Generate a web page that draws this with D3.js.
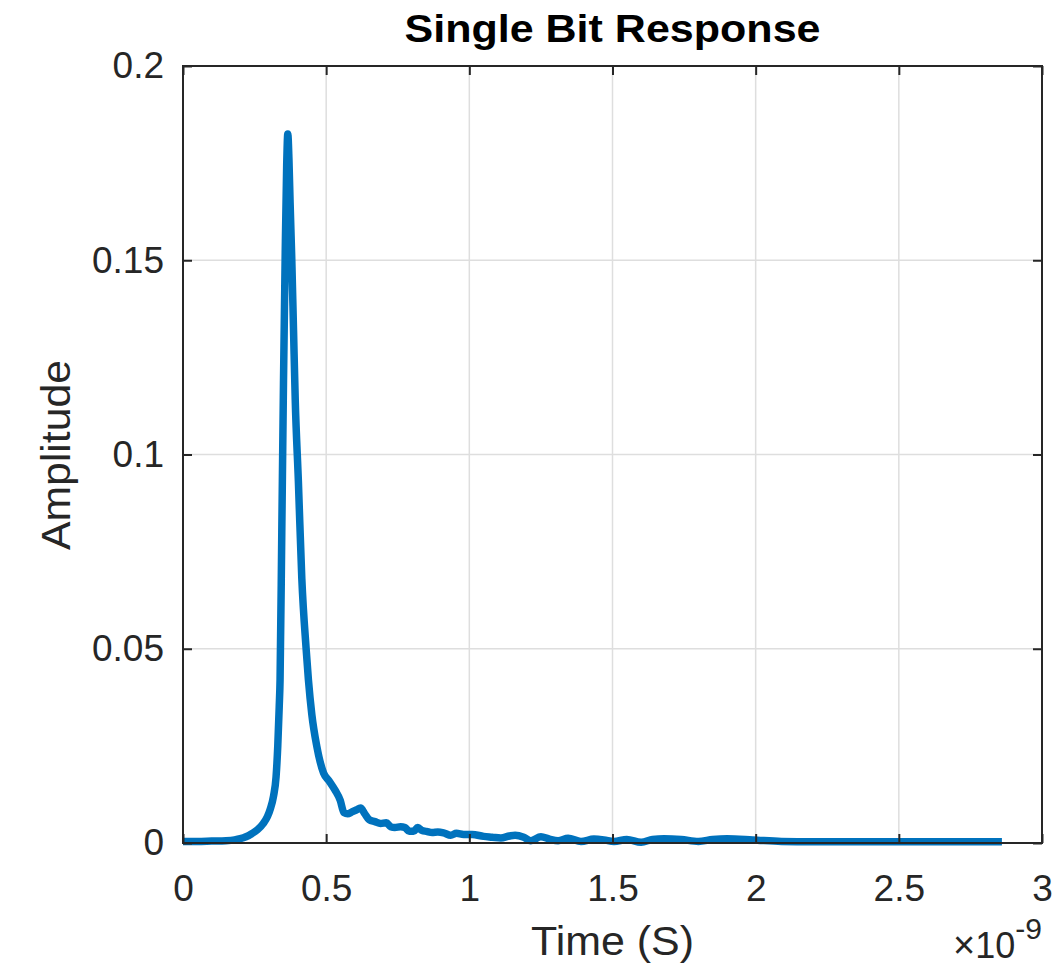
<!DOCTYPE html>
<html>
<head>
<meta charset="utf-8">
<script src="https://cdn.jsdelivr.net/npm/d3@7"></script>
<style>
  html, body { margin: 0; padding: 0; background: #fff; }
  svg { display: block; }
  text { font-family: "Liberation Sans", Arial, Helvetica, sans-serif; fill: #262626; }
</style>
</head>
<body>
<svg id="chart" width="1053" height="965"></svg>
<script>
// Time in units of 1e-9 s
const timeNs = [
  0.00, 0.05, 0.10, 0.15, 0.18, 0.20, 0.22, 0.24, 0.26, 0.28, 0.295, 0.305, 0.316, 0.325, 0.331, 0.336, 0.339,
  0.345, 0.351, 0.357, 0.362, 0.366, 0.370, 0.374, 0.380, 0.386, 0.392, 0.403, 0.415, 0.430,
  0.438, 0.450, 0.467, 0.491, 0.510, 0.531, 0.549, 0.562, 0.575, 0.590, 0.605, 0.620, 0.635,
  0.650, 0.670, 0.690, 0.710, 0.725, 0.740, 0.760, 0.775, 0.790, 0.805, 0.820, 0.835, 0.850,
  0.870, 0.890, 0.910, 0.935, 0.955, 0.980, 1.010, 1.050, 1.080, 1.110, 1.140, 1.160, 1.190,
  1.215, 1.250, 1.280, 1.310, 1.345, 1.390, 1.435, 1.470, 1.505, 1.550, 1.600, 1.640, 1.680,
  1.740, 1.800, 1.850, 1.900, 1.990, 2.090, 2.200, 2.500, 2.860
];
const amplitude = [
  0.0004, 0.0004, 0.0005, 0.0006, 0.0008, 0.0011, 0.0016, 0.0024, 0.0034, 0.0050, 0.0068, 0.0088, 0.0120, 0.0170, 0.0250, 0.0350, 0.0420,
  0.0800, 0.1190, 0.1520, 0.1740, 0.1825, 0.1760, 0.1650, 0.1500, 0.1320, 0.1140, 0.0930, 0.0680, 0.0500,
  0.0420, 0.0330, 0.0250, 0.0180, 0.0160, 0.0136, 0.0110, 0.0078, 0.0075, 0.0080, 0.0085, 0.0090, 0.0075,
  0.0060, 0.0055, 0.0050, 0.0052, 0.0042, 0.0040, 0.0042, 0.0040, 0.0030, 0.0030, 0.0040, 0.0032, 0.0030,
  0.0027, 0.0028, 0.0026, 0.0020, 0.0025, 0.0022, 0.0022, 0.0017, 0.0015, 0.0013, 0.0018, 0.0020, 0.0015,
  0.0006, 0.0016, 0.0010, 0.0006, 0.0012, 0.0004, 0.0010, 0.0008, 0.0004, 0.0009, 0.0002, 0.0009, 0.0011,
  0.0009, 0.0004, 0.0009, 0.0011, 0.0008, 0.0004, 0.0003, 0.0003, 0.0003
];
const xTicks = [0, 0.5, 1, 1.5, 2, 2.5, 3];
const xTickLabels = ["0", "0.5", "1", "1.5", "2", "2.5", "3"];
const yTicks = [0, 0.05, 0.1, 0.15, 0.2];
const yTickLabels = ["0", "0.05", "0.1", "0.15", "0.2"];
const titleText = "Single Bit Response";
const xLabelText = "Time (S)";
const yLabelText = "Amplitude";

const svg = d3.select("#chart");
const margin = { left: 183, right: 1053 - 1042, top: 66, bottom: 965 - 843 };
const W = 1053, H = 965;
const x = d3.scaleLinear().domain([0, 3]).range([margin.left, W - margin.right]);
const y = d3.scaleLinear().domain([0, 0.2]).range([H - margin.bottom, margin.top]);
const axisColor = "#262626";
const x0 = x.range()[0], x1 = x.range()[1], y0 = y.range()[0], y1 = y.range()[1];

svg.append("rect").attr("x", x0).attr("y", y1).attr("width", x1 - x0).attr("height", y0 - y1).attr("fill", "#fff");

// grid
const grid = svg.append("g");
grid.selectAll(".gx").data(xTicks.slice(1, -1)).enter().append("line")
  .attr("x1", d => x(d)).attr("x2", d => x(d)).attr("y1", y0).attr("y2", y1)
  .attr("stroke", "#dedede").attr("stroke-width", 1.5);
grid.selectAll(".gy").data(yTicks.slice(1, -1)).enter().append("line")
  .attr("y1", d => y(d)).attr("y2", d => y(d)).attr("x1", x0).attr("x2", x1)
  .attr("stroke", "#dedede").attr("stroke-width", 1.5);

// line
const line = d3.line().x((d, i) => x(timeNs[i])).y(d => y(d)).curve(d3.curveMonotoneX);
svg.append("path").datum(amplitude).attr("d", line)
  .attr("fill", "none").attr("stroke", "#0072BD").attr("stroke-width", 7.5)
  .attr("stroke-linecap", "butt").attr("stroke-linejoin", "round");

// axes with inward ticks
const tickLen = 9;
const fmtX = d => xTickLabels[xTicks.indexOf(d)];
const fmtY = d => yTickLabels[yTicks.indexOf(d)];
const styleAxis = g => {
  g.select(".domain").remove();
  g.selectAll("line").attr("stroke", axisColor).attr("stroke-width", 2);
  g.selectAll("text").style("font-family", "'Liberation Sans', Arial, sans-serif").attr("fill", axisColor);
};
svg.append("g").attr("transform", `translate(0,${y0})`)
  .call(d3.axisBottom(x).tickValues(xTicks).tickFormat(fmtX).tickSizeInner(-tickLen).tickSizeOuter(0).tickPadding(32))
  .call(styleAxis)
  .call(g => g.selectAll("text").style("font-size", "37px"));
svg.append("g").attr("transform", `translate(0,${y1})`)
  .call(d3.axisTop(x).tickValues(xTicks).tickFormat("").tickSizeInner(-tickLen).tickSizeOuter(0))
  .call(styleAxis);
svg.append("g").attr("transform", `translate(${x0},0)`)
  .call(d3.axisLeft(y).tickValues(yTicks).tickFormat(fmtY).tickSizeInner(-tickLen).tickSizeOuter(0).tickPadding(19))
  .call(styleAxis)
  .call(g => g.selectAll("text").style("font-size", "37px"));
svg.append("g").attr("transform", `translate(${x1},0)`)
  .call(d3.axisRight(y).tickValues(yTicks).tickFormat("").tickSizeInner(-tickLen).tickSizeOuter(0))
  .call(styleAxis);

// box
svg.append("rect").attr("x", x0).attr("y", y1).attr("width", x1 - x0).attr("height", y0 - y1)
  .attr("fill", "none").attr("stroke", axisColor).attr("stroke-width", 2);

// title
svg.append("text").attr("x", (x0 + x1) / 2).attr("y", 42).attr("text-anchor", "middle")
  .style("font-size", "38px").style("font-weight", "bold").style("fill", "#000")
  .attr("textLength", 416).attr("lengthAdjust", "spacingAndGlyphs")
  .text(titleText);

// x label
svg.append("text").attr("x", (x0 + x1) / 2).attr("y", 955).attr("text-anchor", "middle")
  .style("font-size", "41px").attr("textLength", 163).attr("lengthAdjust", "spacingAndGlyphs")
  .text(xLabelText);

// exponent
const ex = svg.append("text").attr("x", 1042).attr("y", 958).attr("text-anchor", "end").style("font-size", "36px");
ex.append("tspan").style("font-size", "38px").style("font-weight", "300").text("\u00D7");
ex.append("tspan").text("10");
ex.append("tspan").attr("dy", -19).style("font-size", "30px").text("-9");

// y label
svg.append("text").attr("transform", `translate(70,455) rotate(-90)`).attr("text-anchor", "middle")
  .style("font-size", "41px").attr("textLength", 190).attr("lengthAdjust", "spacingAndGlyphs")
  .text(yLabelText);
</script>
</body>
</html>
